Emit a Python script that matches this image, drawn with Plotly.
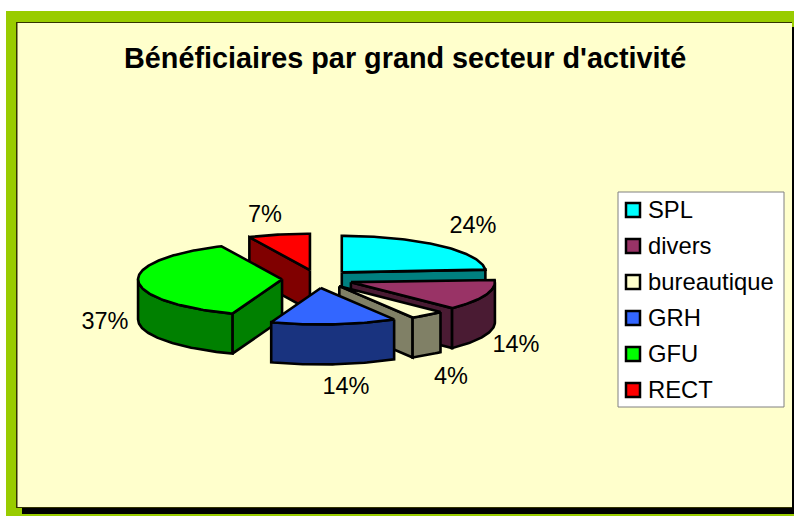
import math
import plotly.graph_objects as go

# --- data ---
categories = ["SPL", "divers", "bureautique", "GRH", "GFU", "RECT"]
shares = [23.8, 13.8, 3.9, 14.1, 37.49, 6.91]
top_colors = ["#00FFFF", "#993366", "#FFFFCC", "#3366FF", "#00FF00", "#FF0000"]
side_colors = ["#008080", "#4A1B33", "#808066", "#19337F", "#008000", "#800000"]

# --- layout constants (pixels) ---
W, H = 794, 516
CX, CY = 317.6, 279.0
RX, RY = 144.0, 36.5
DEPTH = 40.0
EXPLODE = 0.247
PIE_LW = 2.6
draw_order = ["RECT", "SPL", "divers", "bureautique", "GFU", "GRH"]
label_xy = {"SPL": (473, 227), "divers": (516, 346), "bureautique": (451, 378),
            "GRH": (346, 388), "GFU": (105, 323), "RECT": (265, 216)}
legend_ys = [210, 246, 282, 318, 354, 390]
legend_text_offset = 2


def pt(theta, ox, oy, dz=0.0):
    t = math.radians(theta)
    return ox + RX * math.sin(t), oy - RY * math.cos(t) + dz


def arc(a, b, ox, oy, dz=0.0):
    n = max(2, int(abs(b - a)) + 1)
    return [pt(a + (b - a) * i / n, ox, oy, dz) for i in range(n + 1)]


def poly(points, fill):
    xs = [p[0] for p in points] + [points[0][0]]
    ys = [p[1] for p in points] + [points[0][1]]
    return go.Scatter(x=xs, y=ys, mode="lines", fill="toself", fillcolor=fill,
                      line=dict(color="black", width=PIE_LW), hoverinfo="skip",
                      showlegend=False)


# slice angles from the shares
total = sum(shares)
angles = {}
acc = 0.0
for name, v in zip(categories, shares):
    angles[name] = (acc / total * 360, (acc + v) / total * 360)
    acc += v

fig = go.Figure()
for name in draw_order:
    i = categories.index(name)
    a, b = angles[name]
    mid = (a + b) / 2
    ox, oy = pt(mid, CX, CY)
    ox = CX + EXPLODE * (ox - CX)
    oy = CY + EXPLODE * (oy - CY)
    side, top = side_colors[i], top_colors[i]
    # cut faces that look toward the viewer
    if math.cos(math.radians(a - 90)) < -1e-6:
        e = pt(a, ox, oy)
        fig.add_trace(poly([(ox, oy), e, (e[0], e[1] + DEPTH), (ox, oy + DEPTH)], side))
    if math.cos(math.radians(b + 90)) < -1e-6:
        e = pt(b, ox, oy)
        fig.add_trace(poly([(ox, oy), e, (e[0], e[1] + DEPTH), (ox, oy + DEPTH)], side))
    # outer rim (front half only)
    ra, rb = max(a, 90), min(b, 270)
    if rb > ra:
        fig.add_trace(poly(arc(ra, rb, ox, oy) + arc(rb, ra, ox, oy, DEPTH), side))
    # top face
    fig.add_trace(poly([(ox, oy)] + arc(a, b, ox, oy), top))

# percent labels
fig.add_trace(go.Scatter(
    x=[label_xy[c][0] for c in categories], y=[label_xy[c][1] for c in categories],
    text=[f"{round(v)}%" for v in shares], mode="text", hoverinfo="skip", showlegend=False,
    textposition="middle center",
    textfont=dict(family="Liberation Sans, Arial", size=23.5, color="black")))

# legend swatches and labels
fig.add_trace(go.Scatter(
    x=[633] * len(categories), y=legend_ys, mode="markers", hoverinfo="skip", showlegend=False,
    marker=dict(symbol="square", size=14, color=top_colors, line=dict(color="black", width=2.5))))
fig.add_trace(go.Scatter(
    x=[648] * len(categories), y=[y + legend_text_offset for y in legend_ys], text=categories,
    mode="text", hoverinfo="skip", showlegend=False, textposition="middle right",
    textfont=dict(family="Liberation Sans, Arial", size=23.8, color="black")))


def rect(x0, y0, x1, y1, color, line=None, lw=0):
    return dict(type="rect", layer="below", xref="x", yref="y", x0=x0, y0=y0, x1=x1, y1=y1,
                fillcolor=color, line=dict(color=line or color, width=lw))


shapes = [
    rect(6, 11, 794, 516, "#99CC00"),           # green frame
    rect(22, 507, 794, 514, "#000000"),         # bottom shadow
    rect(792, 27, 794, 514, "#000000"),         # right shadow
    rect(16, 22, 792, 508, "#333300"),          # dark edge
    rect(17.5, 23, 792, 507, "#FFFFCC"),        # cream panel
    rect(618, 192, 784, 407, "#FFFFFF", "#808080", 1),  # legend box
]

fig.update_layout(
    width=W, height=H, autosize=False, margin=dict(l=0, r=0, t=0, b=0),
    paper_bgcolor="white", plot_bgcolor="rgba(0,0,0,0)", showlegend=False,
    xaxis=dict(range=[0, W], visible=False, fixedrange=True),
    yaxis=dict(range=[H, 0], visible=False, fixedrange=True),
    shapes=shapes,
    annotations=[dict(text="<b>Bénéficiaires par grand secteur d'activité</b>",
                      x=405, y=58, xref="x", yref="y", showarrow=False,
                      xanchor="center", yanchor="middle",
                      font=dict(family="Liberation Sans, Arial", size=28.8, color="black"))],
)
fig.write_html("out.html", config={"displayModeBar": False},
               post_script="document.body.style.margin='0';")
